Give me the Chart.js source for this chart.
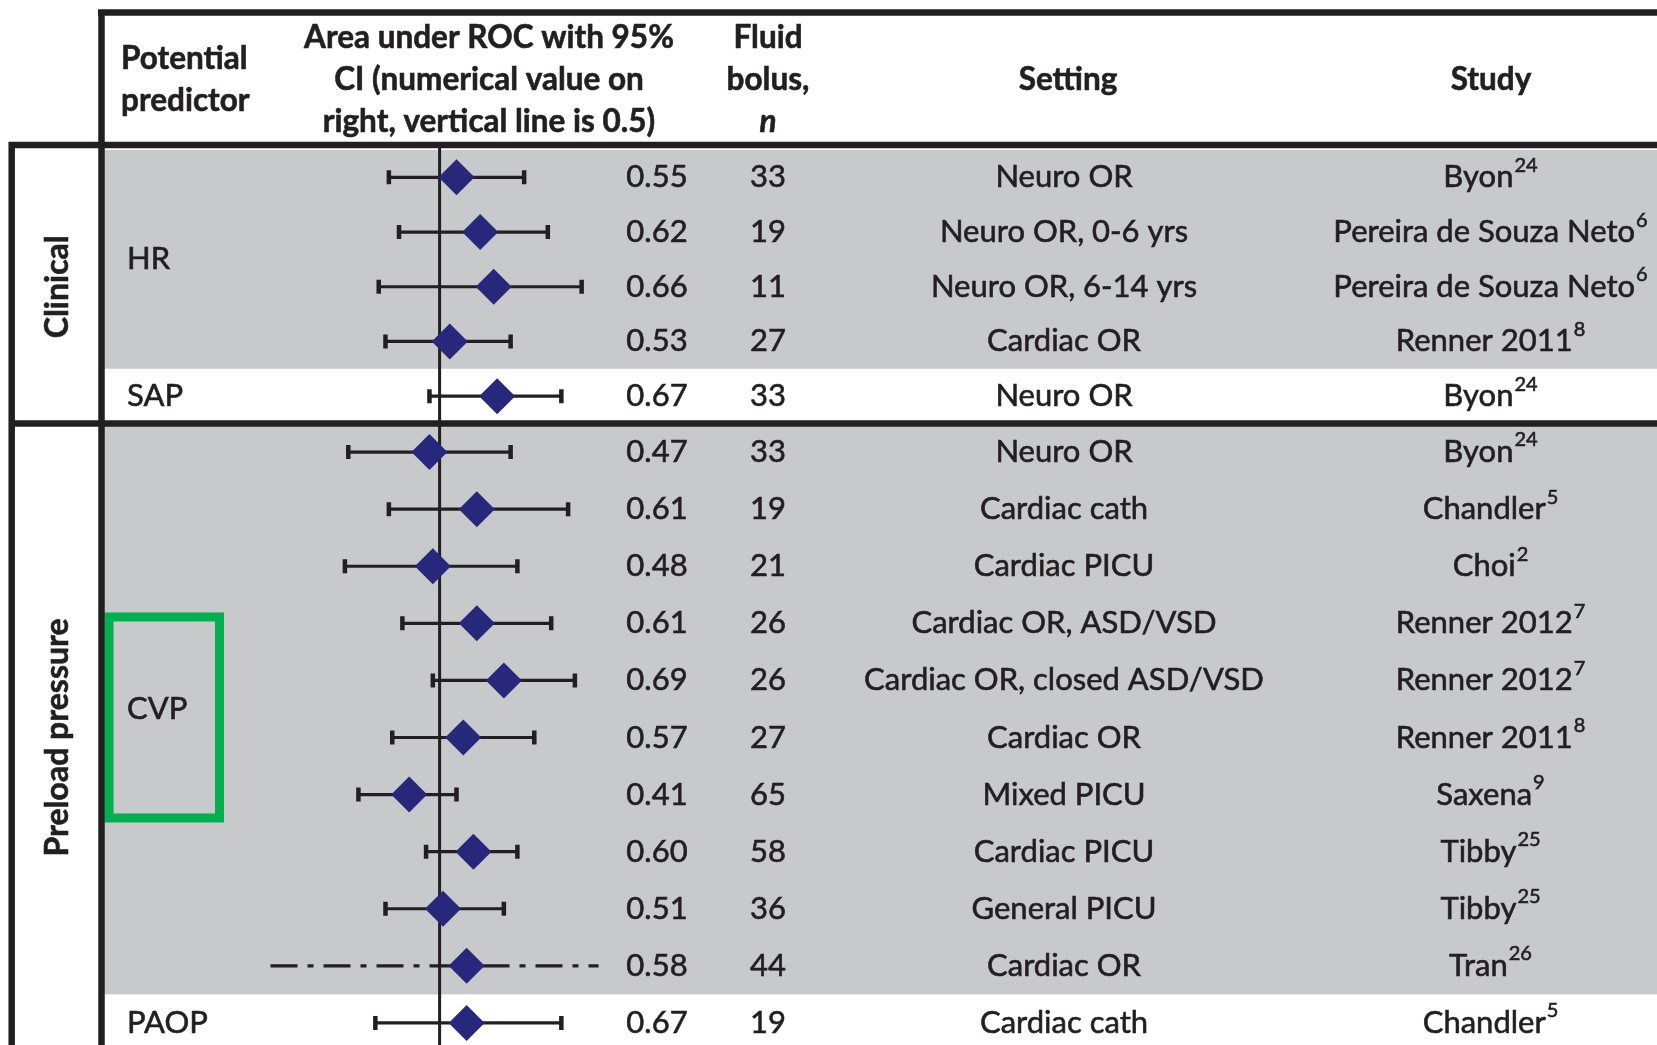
<!DOCTYPE html>
<html>
<head>
<meta charset="utf-8">
<script src="https://cdn.jsdelivr.net/npm/chart.js@4.4.0/dist/chart.umd.min.js"></script>
<style>
  html, body { margin: 0; padding: 0; background: #fff; overflow: hidden; }
  canvas { display: block; }
</style>
</head>
<body>
<canvas id="rocChart" width="1657" height="1052"></canvas>
<script>
// table rows, top to bottom
const groups = ['Clinical', 'Preload pressure'];
const groupRows = [5, 11];
const predictors = ['HR', 'SAP', 'CVP', 'PAOP'];
const predictorRows = [4, 1, 10, 1];
const aucPrinted = [0.55, 0.62, 0.66, 0.53, 0.67, 0.47, 0.61, 0.48, 0.61, 0.69, 0.57, 0.41, 0.60, 0.51, 0.58, 0.67];
// where the diamonds sit (the PAOP diamond is drawn at ~0.58 in the original)
const aucMarker = [0.55, 0.62, 0.66, 0.53, 0.67, 0.47, 0.61, 0.48, 0.61, 0.69, 0.57, 0.41, 0.60, 0.51, 0.58, 0.58];
const ciLow = [0.35, 0.38, 0.32, 0.34, 0.47, 0.23, 0.35, 0.22, 0.39, 0.48, 0.36, 0.26, 0.46, 0.34, 0.00, 0.31];
const ciHigh = [0.75, 0.82, 0.92, 0.71, 0.86, 0.71, 0.88, 0.73, 0.83, 0.90, 0.78, 0.55, 0.73, 0.69, 0.97, 0.86];
const ciUnknown = [false, false, false, false, false, false, false, false, false, false, false, false, false, false, true, false];
const bolusN = [33, 19, 11, 27, 33, 33, 19, 21, 26, 26, 27, 65, 58, 36, 44, 19];
const settings = ['Neuro OR', 'Neuro OR, 0-6 yrs', 'Neuro OR, 6-14 yrs', 'Cardiac OR', 'Neuro OR',
  'Neuro OR', 'Cardiac cath', 'Cardiac PICU', 'Cardiac OR, ASD/VSD', 'Cardiac OR, closed ASD/VSD',
  'Cardiac OR', 'Mixed PICU', 'Cardiac PICU', 'General PICU', 'Cardiac OR', 'Cardiac cath'];
const studies = ['Byon', 'Pereira de Souza Neto', 'Pereira de Souza Neto', 'Renner 2011', 'Byon',
  'Byon', 'Chandler', 'Choi', 'Renner 2012', 'Renner 2012', 'Renner 2011', 'Saxena', 'Tibby', 'Tibby', 'Tran', 'Chandler'];
const studyRefs = ['24', '6', '6', '8', '24', '24', '5', '2', '7', '7', '8', '9', '25', '25', '26', '5'];
const refLine = 0.5;

const INK = '#231f20';
const GRAY = '#c8c9cb';
const BODY = '31px Lato';
const HEAD = 'bold 31.5px Lato';
const SUP = '20px Lato';
const groupAxes = ['yClin', 'yPre'];

// pixel centre of table row i (each group has its own stacked y axis)
function rowY(chart, i) {
  let start = 0;
  for (let g = 0; g < groupRows.length; g++) {
    if (i < start + groupRows[g]) return chart.scales[groupAxes[g]].getPixelForValue(i - start);
    start += groupRows[g];
  }
  return NaN;
}
function rowStep(chart, i) {
  let start = 0;
  for (let g = 0; g < groupRows.length; g++) {
    if (i < start + groupRows[g]) {
      const s = chart.scales[groupAxes[g]];
      return s.getPixelForValue(1) - s.getPixelForValue(0);
    }
    start += groupRows[g];
  }
  return 0;
}

// slightly heavier text, closer to the printed original
function text(ctx, s, x, y) {
  ctx.fillText(s, x, y);
  ctx.strokeText(s, x, y);
}

function drawStudy(ctx, main, sup, cx, cy) {
  ctx.font = BODY;
  const w1 = ctx.measureText(main).width;
  ctx.font = SUP;
  const w2 = ctx.measureText(sup).width;
  const x0 = cx - (w1 + w2) / 2;
  ctx.textAlign = 'left';
  ctx.font = BODY;
  text(ctx, main, x0, cy);
  ctx.font = SUP;
  text(ctx, sup, x0 + w1 + 1, cy - 12);
}

const tablePlugin = {
  id: 'forestTable',
  beforeDraw(chart) {
    const { ctx } = chart;
    let start = 0;
    ctx.save();
    predictors.forEach((p, k) => {
      const n = predictorRows[k];
      const top = rowY(chart, start) - rowStep(chart, start) / 2;
      const bot = rowY(chart, start + n - 1) + rowStep(chart, start + n - 1) / 2;
      if (k % 2 === 0) {
        ctx.fillStyle = GRAY;
        ctx.fillRect(100, top, chart.width - 100, bot - top);
      }
      start += n;
    });
    ctx.restore();
  },
  beforeDatasetsDraw(chart) {
    const { ctx, scales: { x } } = chart;
    ctx.save();
    // vertical line at 0.5
    ctx.strokeStyle = INK;
    ctx.lineWidth = 3;
    ctx.beginPath();
    ctx.moveTo(x.getPixelForValue(refLine), 145);
    ctx.lineTo(x.getPixelForValue(refLine), chart.height);
    ctx.stroke();
    // confidence intervals
    aucMarker.forEach((v, i) => {
      const cy = rowY(chart, i);
      const x1 = x.getPixelForValue(ciLow[i]);
      const x2 = x.getPixelForValue(ciHigh[i]);
      ctx.beginPath();
      ctx.lineWidth = 3.2;
      if (ciUnknown[i]) {
        ctx.setLineDash([27, 10, 6, 10]);
        ctx.moveTo(x1, cy);
        ctx.lineTo(x2, cy);
        ctx.stroke();
        ctx.setLineDash([]);
        return;
      }
      ctx.moveTo(x1, cy);
      ctx.lineTo(x2, cy);
      ctx.stroke();
      ctx.lineWidth = 4.5;
      ctx.beginPath();
      ctx.moveTo(x1, cy - 7);
      ctx.lineTo(x1, cy + 7);
      ctx.moveTo(x2, cy - 7);
      ctx.lineTo(x2, cy + 7);
      ctx.stroke();
    });
    ctx.restore();
  },
  afterDraw(chart) {
    const { ctx } = chart;
    const W = chart.width;
    const H = chart.height;
    ctx.save();
    ctx.fillStyle = INK;
    ctx.strokeStyle = INK;
    ctx.lineWidth = 0.6;
    ctx.textBaseline = 'middle';

    // header
    ctx.font = HEAD;
    ctx.textAlign = 'left';
    text(ctx, 'Potential', 121, 59);
    text(ctx, 'predictor', 121, 101);
    ctx.textAlign = 'center';
    text(ctx, 'Area under ROC with 95%', 489, 38);
    text(ctx, 'CI (numerical value on', 489, 80);
    text(ctx, 'right, vertical line is 0.5)', 489, 122);
    text(ctx, 'Fluid', 768, 38);
    text(ctx, 'bolus,', 768, 80);
    ctx.font = 'italic bold 31.5px Lato';
    text(ctx, 'n', 768, 122);
    ctx.font = HEAD;
    text(ctx, 'Setting', 1068, 80);
    text(ctx, 'Study', 1491, 80);

    // body columns
    aucPrinted.forEach((v, i) => {
      const cy = rowY(chart, i);
      ctx.font = BODY;
      ctx.textAlign = 'center';
      text(ctx, v.toFixed(2), 657, cy);
      text(ctx, String(bolusN[i]), 768, cy);
      text(ctx, settings[i], 1064, cy);
      drawStudy(ctx, studies[i], studyRefs[i], 1490, cy);
    });

    // predictor labels
    let start = 0;
    predictors.forEach((p, k) => {
      const n = predictorRows[k];
      const cy = (rowY(chart, start) + rowY(chart, start + n - 1)) / 2;
      ctx.font = BODY;
      ctx.textAlign = 'left';
      ctx.lineWidth = 0.6;
      text(ctx, p, 127, cy);
      if (p === 'CVP') {
        ctx.save();
        ctx.strokeStyle = '#00b04f';
        ctx.lineWidth = 9;
        ctx.strokeRect(109, cy - 92, 110.5, 201);
        ctx.restore();
      }
      start += n;
    });

    // group labels, rotated
    start = 0;
    ctx.font = 'bold 32px Lato';
    ctx.textAlign = 'center';
    groups.forEach((g, k) => {
      const n = groupRows[k];
      const cy = (rowY(chart, start) + rowY(chart, start + n - 1)) / 2;
      ctx.save();
      ctx.translate(58, cy);
      ctx.rotate(-Math.PI / 2);
      text(ctx, g, 0, 0);
      ctx.restore();
      start += n;
    });

    // rules
    ctx.lineWidth = 6.5;
    ctx.beginPath();
    ctx.moveTo(98, 12.5); ctx.lineTo(W, 12.5);
    ctx.moveTo(101.5, 9.5); ctx.lineTo(101.5, H);
    ctx.moveTo(8.5, 145); ctx.lineTo(W, 145);
    ctx.moveTo(11.7, 142); ctx.lineTo(11.7, H);
    const div = chart.scales.yClin.bottom;
    ctx.moveTo(8.5, div); ctx.lineTo(W, div);
    ctx.stroke();
    ctx.restore();
  }
};

function groupPoints(g) {
  const start = groupRows.slice(0, g).reduce((a, b) => a + b, 0);
  return aucMarker.slice(start, start + groupRows[g]).map((v, j) => ({ x: v, y: j }));
}

const diamond = {
  pointStyle: 'rectRot',
  pointRadius: 18,
  pointHoverRadius: 18,
  backgroundColor: '#27287b',
  borderColor: '#27287b',
  borderWidth: 0,
  clip: false
};

// stacked left axes are laid out bottom-up, so the lower group is defined first
const rocChart = new Chart(document.getElementById('rocChart'), {
  type: 'scatter',
  data: {
    datasets: [
      Object.assign({ label: groups[0], data: groupPoints(0), yAxisID: 'yClin' }, diamond),
      Object.assign({ label: groups[1], data: groupPoints(1), yAxisID: 'yPre' }, diamond)
    ]
  },
  options: {
    responsive: false,
    animation: false,
    devicePixelRatio: 1,
    events: [],
    layout: { autoPadding: false, padding: { left: 270.5, right: 1048.3, top: 150, bottom: 0.5 } },
    plugins: { legend: { display: false }, tooltip: { enabled: false } },
    scales: {
      x: { type: 'linear', min: 0, max: 1, display: false },
      yPre: { type: 'linear', position: 'left', stack: 'rows', stackWeight: 628,
        min: -0.5, max: groupRows[1] - 0.5, reverse: true, display: false },
      yClin: { type: 'linear', position: 'left', stack: 'rows', stackWeight: 273.5,
        min: -0.5, max: groupRows[0] - 0.5, reverse: true, display: false }
    }
  },
  plugins: [tablePlugin]
});
</script>
</body>
</html>
